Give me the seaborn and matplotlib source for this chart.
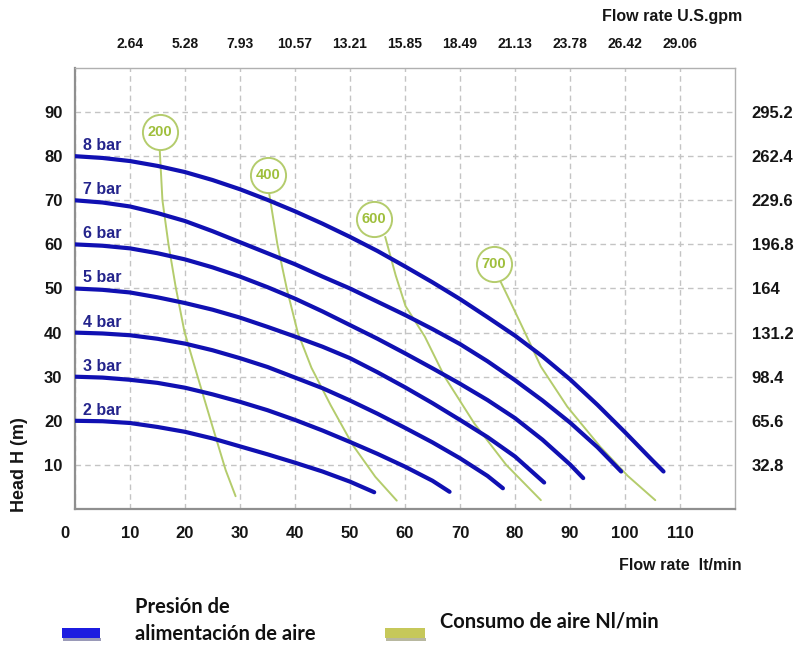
import numpy as np
import pandas as pd
import matplotlib
matplotlib.use("Agg")
import matplotlib.pyplot as plt
from matplotlib.patches import Rectangle
from matplotlib.transforms import ScaledTranslation
import seaborn as sns

# ---------------- data ----------------
pressure_labels = ["2 bar", "3 bar", "4 bar", "5 bar", "6 bar", "7 bar", "8 bar"]
start_heads = [20, 30, 40, 50, 60, 70, 80]

flow_2bar = [0, 5, 10, 15, 20, 25, 30, 35, 40, 45, 50, 54.4]
head_2bar = [20, 19.9, 19.5, 18.6, 17.5, 16.0, 14.2, 12.4, 10.5, 8.5, 6.2, 3.8]
flow_3bar = [0, 5, 10, 15, 20, 25, 30, 35, 40, 45, 50, 55, 60, 65, 68.1]
head_3bar = [30, 29.8, 29.3, 28.6, 27.5, 26.0, 24.3, 22.4, 20.2, 17.8, 15.2, 12.5, 9.6, 6.4, 3.9]
flow_4bar = [0, 5, 10, 15, 20, 25, 30, 35, 40, 45, 50, 55, 60, 65, 70, 75, 77.8]
head_4bar = [40, 39.8, 39.4, 38.6, 37.5, 36.0, 34.2, 32.2, 29.8, 27.4, 24.6, 21.6, 18.4,
             15.1, 11.5, 7.5, 4.7]
flow_5bar = [0, 5, 10, 15, 20, 25, 30, 35, 40, 45, 50, 55, 60, 65, 70, 75, 80, 85.3]
head_5bar = [50, 49.7, 49.1, 48.0, 46.7, 45.2, 43.4, 41.3, 39.1, 36.8, 34.2, 31.0, 27.6,
             24.0, 20.2, 16.3, 11.9, 6.0]
flow_6bar = [0, 5, 10, 15, 20, 25, 30, 35, 40, 45, 50, 55, 60, 65, 70, 75, 80, 85, 90, 92.4]
head_6bar = [60, 59.7, 59.1, 58.0, 56.6, 54.8, 52.7, 50.3, 47.7, 44.8, 41.7, 38.6, 35.3,
             31.9, 28.4, 24.7, 20.6, 15.7, 10.1, 7.0]
flow_7bar = [0, 5, 10, 15, 20, 25, 30, 35, 40, 45, 50, 55, 60, 65, 70, 75, 80, 85, 90, 95, 99.3]
head_7bar = [70, 69.5, 68.6, 67.1, 65.3, 63.0, 60.5, 58.0, 55.5, 52.7, 50.0, 47.0, 44.0,
             40.8, 37.4, 33.5, 29.2, 24.6, 19.6, 14.0, 8.5]
flow_8bar = [0, 5, 10, 15, 20, 25, 30, 35, 40, 45, 50, 55, 60, 65, 70, 75, 80, 85, 90, 95,
             100, 105, 107]
head_8bar = [80, 79.6, 78.9, 77.8, 76.4, 74.6, 72.5, 70.1, 67.5, 64.7, 61.7, 58.5, 55.0,
             51.4, 47.6, 43.5, 39.3, 34.6, 29.4, 23.6, 17.4, 11.0, 8.5]

air_labels = ["200", "400", "600", "700"]
air_200_flow = [15.4, 15.9, 17.0, 18.3, 19.9, 22.3, 25.0, 27.4, 29.2]
air_200_head = [81.6, 70.0, 60.0, 50.4, 40.2, 30.0, 18.7, 8.8, 2.9]
air_400_flow = [35.3, 36.8, 38.5, 40.5, 43.0, 46.5, 50.5, 54.6, 58.5]
air_400_head = [71.6, 60.0, 50.0, 40.0, 32.0, 23.5, 14.5, 7.3, 1.9]
air_600_flow = [56.4, 58.3, 60.1, 63.6, 67.2, 72.6, 78.4, 84.7]
air_600_head = [61.7, 53.0, 46.0, 39.1, 30.0, 19.4, 10.0, 2.0]
air_700_flow = [77.4, 79.3, 82.0, 84.7, 89.5, 95.5, 100.5, 105.5]
air_700_head = [51.5, 46.6, 39.5, 32.3, 23.2, 14.1, 7.5, 2.0]
air_label_flow = [15.4, 35.1, 54.4, 76.2]
air_label_head = [85.6, 75.7, 65.7, 55.5]

flow_ticks = [0, 10, 20, 30, 40, 50, 60, 70, 80, 90, 100, 110]
flow_tick_labels = ["0", "10", "20", "30", "40", "50", "60", "70", "80", "90", "100", "110"]
gpm_ticks = [10, 20, 30, 40, 50, 60, 70, 80, 90, 100, 110]
gpm_labels = ["2.64", "5.28", "7.93", "10.57", "13.21", "15.85", "18.49",
              "21.13", "23.78", "26.42", "29.06"]
head_ticks = [10, 20, 30, 40, 50, 60, 70, 80, 90]
head_tick_labels = ["10", "20", "30", "40", "50", "60", "70", "80", "90"]
feet_labels = ["32.8", "65.6", "98.4", "131.2", "164", "196.8", "229.6", "262.4", "295.2"]

# ---------------- build tables ----------------
pres_flows = [flow_2bar, flow_3bar, flow_4bar, flow_5bar, flow_6bar, flow_7bar, flow_8bar]
pres_heads = [head_2bar, head_3bar, head_4bar, head_5bar, head_6bar, head_7bar, head_8bar]
pres_df = pd.concat([pd.DataFrame({"flow": f, "head": h, "curve": lab})
                     for f, h, lab in zip(pres_flows, pres_heads, pressure_labels)],
                    ignore_index=True)
air_flows = [air_200_flow, air_400_flow, air_600_flow, air_700_flow]
air_heads = [air_200_head, air_400_head, air_600_head, air_700_head]
air_df = pd.concat([pd.DataFrame({"flow": f, "head": h, "curve": lab})
                    for f, h, lab in zip(air_flows, air_heads, air_labels)],
                   ignore_index=True)

# ---------------- style ----------------
sns.set_style("white")
plt.rcParams["font.family"] = ["Liberation Sans", "DejaVu Sans"]

BLUE = "#1010b2"
GREEN = "#b4cc6c"
GREEN_TXT = "#9fbf3c"
LABEL_BLUE = "#24248c"
GRID = "#c4c4c4"
TXT = "#151515"

fig = plt.figure(figsize=(8.02, 6.47), dpi=100)
ax = fig.add_axes([0.0935, 0.2133, 0.823, 0.6816])
ax.set_xlim(0, 120)
ax.set_ylim(0, 100)

ax.grid(True, linestyle=(0, (4, 3)), color=GRID, linewidth=1.0)
ax.set_axisbelow(True)

sns.lineplot(data=air_df, x="flow", y="head", hue="curve",
             palette={k: GREEN for k in air_labels}, sort=False,
             estimator=None, legend=False, linewidth=1.4, ax=ax, zorder=2)
sns.lineplot(data=pres_df, x="flow", y="head", hue="curve",
             palette={k: BLUE for k in pressure_labels}, sort=False,
             estimator=None, legend=False, linewidth=3.0, ax=ax, zorder=3)
for ln in ax.get_lines():
    ln.set_solid_joinstyle("round")

ax.scatter(air_label_flow, air_label_head, s=640, marker="o",
           facecolor="white", edgecolor=GREEN, linewidth=1.4, zorder=4)
for fx, hy, lab in zip(air_label_flow, air_label_head, air_labels):
    ax.text(fx, hy, lab, ha="center", va="center", fontsize=10.5,
            fontweight="bold", color=GREEN_TXT, zorder=5)

for lab, h in zip(pressure_labels, start_heads):
    ax.text(1.5, h + 2.4, lab, ha="left", va="center", fontsize=11.5,
            fontweight="bold", color=LABEL_BLUE, zorder=5)

ax.set_xlabel("")
ax.set_ylabel("")
ax.set_xticks(flow_ticks)
ax.set_xticklabels(flow_tick_labels)
ax.set_yticks(head_ticks)
ax.set_yticklabels(head_tick_labels)
ax.tick_params(axis="x", length=0, pad=12, labelsize=12)
ax.tick_params(axis="y", length=0, pad=9, labelsize=12)
for t in ax.get_xticklabels() + ax.get_yticklabels():
    t.set_fontweight("bold")
    t.set_color(TXT)
first = ax.xaxis.get_major_ticks()[0]
first.label1.set_transform(first.label1.get_transform() +
                           ScaledTranslation(-0.10, 0, fig.dpi_scale_trans))

for side in ["left", "bottom"]:
    ax.spines[side].set_color("#8f8f8f")
    ax.spines[side].set_linewidth(1.6)
for side in ["top", "right"]:
    ax.spines[side].set_color("#b0b0b0")
    ax.spines[side].set_linewidth(1.0)

# top axis (U.S. gpm)
ax_top = ax.twiny()
ax_top.set_xlim(ax.get_xlim())
ax_top.set_xticks(gpm_ticks)
ax_top.set_xticklabels(gpm_labels)
ax_top.tick_params(axis="x", length=0, pad=12, labelsize=10)
for t in ax_top.get_xticklabels():
    t.set_fontweight("bold")
    t.set_color(TXT)

# right axis (feet)
ax_r = ax.twinx()
ax_r.set_ylim(ax.get_ylim())
ax_r.set_yticks(head_ticks)
ax_r.set_yticklabels(feet_labels)
ax_r.tick_params(axis="y", length=0, pad=12, labelsize=12)
for t in ax_r.get_yticklabels():
    t.set_fontweight("bold")
    t.set_color(TXT)
for a in (ax_top, ax_r):
    for s in a.spines.values():
        s.set_visible(False)

# axis titles
fig.text(0.925, 1 - 17 / 647, "Flow rate U.S.gpm", ha="right", va="center",
         fontsize=11.5, fontweight="bold", color=TXT)
fig.text(0.925, 1 - 565 / 647, "Flow rate  lt/min", ha="right", va="center",
         fontsize=11.5, fontweight="bold", color=TXT)
fig.text(20 / 802, 1 - 465 / 647, "Head H (m)", ha="center", va="center",
         rotation=90, fontsize=13, fontweight="bold", color=TXT)

# legend
leg_font = ["Lato", "DejaVu Sans"]
fig.add_artist(Rectangle((63 / 802, 1 - 641 / 647), 38 / 802, 3 / 647,
                         transform=fig.transFigure, color="#9a9ab8", lw=0))
fig.add_artist(Rectangle((62 / 802, 1 - 638 / 647), 38 / 802, 10 / 647,
                         transform=fig.transFigure, color="#1c1ce0", lw=0))
fig.text(135 / 802, 1 - 607 / 647, "Presión de", ha="left", va="center",
         fontsize=14.5, fontweight="bold", family=leg_font, color="#111111")
fig.text(135 / 802, 1 - 634 / 647, "alimentación de aire", ha="left", va="center",
         fontsize=14.5, fontweight="bold", family=leg_font, color="#111111")
fig.add_artist(Rectangle((386 / 802, 1 - 641 / 647), 40 / 802, 3 / 647,
                         transform=fig.transFigure, color="#b8b8a0", lw=0))
fig.add_artist(Rectangle((385 / 802, 1 - 638 / 647), 40 / 802, 10 / 647,
                         transform=fig.transFigure, color="#c6c85a", lw=0))
fig.text(440 / 802, 1 - 622 / 647, "Consumo de aire Nl/min", ha="left", va="center",
         fontsize=14.5, fontweight="bold", family=leg_font, color="#111111")

fig.savefig("out.png", dpi=100, facecolor="white")
